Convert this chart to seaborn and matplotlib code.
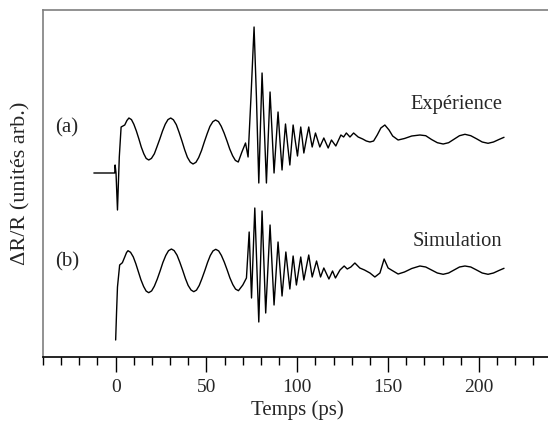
import numpy as np
import pandas as pd
import matplotlib
matplotlib.use("Agg")
import matplotlib.pyplot as plt
from matplotlib.ticker import MultipleLocator
import seaborn as sns

# valeurs (unités arbitraires)
t_exp = [-12, -0.5, -0.3, 0.2, 1.0, 2.0, 3.0, 5.0, 6.2,
         7.3, 8.7, 10.0, 11.4, 12.8, 14.1, 15.5, 16.8, 18.2,
         19.7, 21.3, 22.7, 24.3, 25.8, 27.3, 28.8, 30.3,
         31.8, 33.4, 34.9, 36.5, 38.0, 39.5, 41.1, 42.6,
         44.2, 45.7, 47.3, 48.8, 50.4, 51.9, 53.5, 55.0,
         56.6, 58.1, 59.7, 61.3, 62.8, 64.4, 65.9, 67.5,
         69.5, 71.5, 72.9, 74.5, 76.2, 77.5, 78.8, 79.7,
         80.6, 81.8, 83.0, 84.0, 85.0, 86.1, 87.2, 88.3, 89.4, 90.5, 91.6, 92.5,
         93.5, 94.7, 95.9, 96.8, 97.7, 98.9, 100.1, 101.0, 101.9, 102.8, 103.6,
         105.0, 106.3, 107.2, 108.2, 109.1, 110.0, 111.2, 112.4, 114.6, 117.0,
         118.8, 121.2, 124.0, 125.5, 127.0, 129.0, 131.0, 133.5, 136.0, 138.0,
         140.0, 142.0, 144.0, 146.0, 148.2, 150.5, 152.5, 155.5, 159.0, 163.0,
         167.5, 170.7, 173.9, 177.1, 180.3, 183.3, 186.3, 189.3, 192.3, 195.5,
         198.7, 201.8, 205.0, 208.0, 211.0, 213.8]
v_exp = [184, 184, 192, 184, 147, 200, 230, 232, 236.5,
         239, 237.4, 232.8, 226, 218, 210, 203.2, 198.6, 197,
         198.6, 203.2, 210, 218, 226, 232.8, 237.4, 239,
         237.2, 232.3, 224.8, 216, 207.2, 199.7, 194.8, 193,
         194.7, 199.4, 206.6, 215, 223.4, 230.6, 235.3, 237,
         235.4, 230.8, 224, 216, 208, 201.2, 196.6, 195,
         205, 214, 200, 260, 330, 260, 174, 230,
         284, 230, 174, 220, 265, 225, 184, 215, 245, 215, 187, 210,
         233, 212, 192, 212, 232, 216, 201, 216, 230, 217, 204,
         218, 230, 220, 210, 217, 224, 217, 210, 219, 209,
         217, 211, 222, 220, 224, 220, 224, 220, 218, 216,
         215, 216, 222, 229, 232, 227, 221, 217, 218.5, 221,
         222, 221.3, 217.5, 214.3, 213, 214.3, 217.8, 221.3, 222.7, 221.3,
         218.2, 215, 213.7, 215, 217.5, 219.7]

t_sim = [0.0, 0.5, 1.0, 2.2, 3.7, 5.0, 6.0,
         6.8, 8.2, 9.7, 11.1, 12.5, 13.9, 15.4, 16.8, 18.2,
         19.8, 21.3, 22.9, 24.5, 26.0, 27.6, 29.1, 30.7,
         32.2, 33.8, 35.3, 36.9, 38.4, 39.9, 41.5, 43.0,
         44.5, 46.0, 47.5, 49.1, 50.6, 52.1, 53.6, 55.1,
         56.7, 58.2, 59.8, 61.4, 62.9, 64.5, 66.0, 67.6,
         70.0, 72.0, 73.5, 74.8, 76.6, 78.8, 80.6, 82.6, 85.0, 87.2,
         89.4, 91.6, 93.7, 95.9, 97.7, 99.5, 101.9, 103.6, 106.3, 108.2, 110.6,
         112.8, 114.6, 117.4, 119.4, 121.0, 123.5, 125.8, 127.5, 129.5, 131.7,
         134.4, 137.0, 140.0, 142.7, 145.5, 147.8, 150.0, 151.8, 155.5, 159.0,
         163.0, 167.5, 170.7, 173.9, 177.1, 180.3, 183.3, 186.3, 189.3, 192.3,
         195.5, 198.7, 201.8, 205.0, 208.0, 211.0, 213.8]
v_sim = [17, 45, 70, 92, 94.3, 100, 104.5,
         106.3, 104.7, 100.1, 93.3, 85.3, 77.3, 70.5, 65.9, 64.3,
         66.1, 70.8, 77.9, 86.2, 94.5, 101.6, 106.3, 108,
         106.4, 101.8, 94.9, 86.7, 78.5, 71.6, 67, 65.3,
         66.9, 71.5, 78.4, 86.5, 94.6, 101.5, 106.1, 107.7,
         106.1, 101.6, 94.9, 87, 79.1, 72.4, 67.9, 66.3,
         72, 79, 125, 59, 149, 35, 146, 44, 132, 52,
         115, 61, 105, 68, 101, 72, 100, 77, 102, 80, 96,
         80, 89, 78, 86, 79, 87, 91, 88, 90, 94,
         89, 87, 84, 80, 84, 98, 89, 87, 83, 85,
         88.5, 91, 90, 87, 84, 82.7, 84, 87, 90, 91,
         90, 87, 84, 82.7, 84, 86.5, 88.7]

labels = ["(a)", "(b)"]
names = ["Expérience", "Simulation"]

sns.set_theme(style="white")
plt.rcParams['font.family'] = ['Liberation Serif', 'DejaVu Serif']

fig = plt.figure(figsize=(5.48, 4.29), dpi=100)
ax = fig.add_axes([43 / 548, 72 / 429, 508.6 / 548, 347 / 429])

df_exp = pd.DataFrame({"t": t_exp, "v": v_exp})
df_sim = pd.DataFrame({"t": t_sim, "v": v_sim})
sns.lineplot(data=df_exp, x="t", y="v", ax=ax, color="black", lw=1.0,
             estimator=None, sort=False)
sns.lineplot(data=df_sim, x="t", y="v", ax=ax, color="black", lw=1.0,
             estimator=None, sort=False)

ax.set_xlim(-40, 240)
ax.set_ylim(0, 347)

ax.text(-33.5, 229, labels[0], fontsize=15, va="center", ha="left")
ax.text(-33.5, 95, labels[1], fontsize=15, va="center", ha="left")
ax.text(213, 252, names[0], fontsize=14.8, va="center", ha="right")
ax.text(213, 116, names[1], fontsize=14.8, va="center", ha="right")

ax.xaxis.set_minor_locator(MultipleLocator(10))
ax.set_xticks([0, 50, 100, 150, 200])
ax.set_yticks([])
ax.tick_params(axis="x", which="major", direction="out", length=11, width=1,
               color="black", bottom=True, labelsize=14, pad=5)
ax.tick_params(axis="x", which="minor", direction="out", length=6, width=1,
               color="black", bottom=True)

ax.set_xlabel("Temps (ps)", fontsize=15, labelpad=3)
ax.set_ylabel("ΔR/R (unités arb.)", fontsize=16, labelpad=9)

for side in ["top", "left"]:
    ax.spines[side].set_color("#7f7f7f")
    ax.spines[side].set_linewidth(1.2)
ax.spines["bottom"].set_color("black")
ax.spines["bottom"].set_linewidth(1.2)
ax.spines["right"].set_visible(False)

fig.savefig("out.png", dpi=100)
